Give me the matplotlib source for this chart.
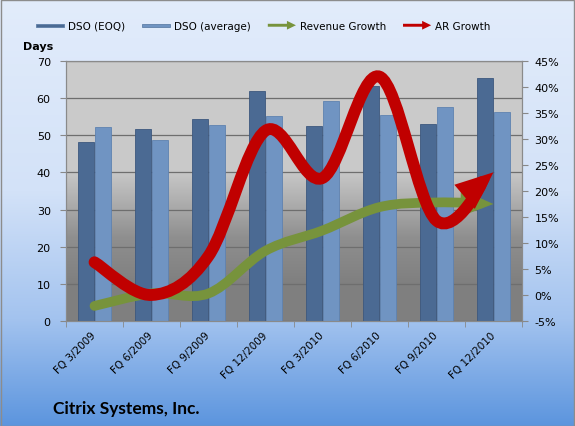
import numpy as np
import matplotlib.pyplot as plt
from matplotlib.path import Path
from matplotlib.patches import FancyArrowPatch, FancyArrow, Patch, Rectangle
from matplotlib.legend_handler import HandlerPatch
from matplotlib.colors import LinearSegmentedColormap

# data
quarters = ['FQ 3/2009', 'FQ 6/2009', 'FQ 9/2009', 'FQ 12/2009',
            'FQ 3/2010', 'FQ 6/2010', 'FQ 9/2010', 'FQ 12/2010']
dso_eoq = [48.1, 51.7, 54.4, 62.0, 52.6, 63.4, 53.0, 65.4]
dso_avg = [52.1, 48.7, 52.8, 55.1, 59.3, 55.5, 57.5, 56.2]
revenue_growth = [-2.1, 0.3, 0.3, 8.5, 12.4, 16.9, 17.8, 17.5]
ar_growth = [6.3, 0.0, 7.5, 31.6, 22.5, 42.0, 14.3, 23.6]

c_eoq = '#4b6a93'
c_avg = '#7094c2'
c_rev = '#77933c'
c_ar = '#c00000'


def smooth_path(xs, ys):
    # excel-style smoothed line (catmull-rom as bezier)
    pts = np.column_stack([xs, ys]).astype(float)
    n = len(pts)
    verts = [pts[0]]
    codes = [Path.MOVETO]
    for i in range(n - 1):
        p0 = pts[i - 1] if i > 0 else pts[i]
        p3 = pts[i + 2] if i + 2 < n else pts[i + 1]
        c1 = pts[i] + (pts[i + 1] - p0) / 6
        c2 = pts[i + 1] - (p3 - pts[i]) / 6
        verts += [c1, c2, pts[i + 1]]
        codes += [Path.CURVE4] * 3
    return Path(verts, codes)


class ArrowHandler(HandlerPatch):
    def create_artists(self, legend, orig_handle, xdescent, ydescent,
                       width, height, fontsize, trans):
        a = FancyArrow(-xdescent, height / 2 - ydescent, width, 0,
                       width=height * 0.4, head_width=height * 1.2,
                       head_length=width * 0.32, length_includes_head=True,
                       color=orig_handle.get_facecolor(), lw=0)
        a.set_transform(trans)
        return [a]


class BarHandler(HandlerPatch):
    def create_artists(self, legend, orig_handle, xdescent, ydescent,
                       width, height, fontsize, trans):
        r = Rectangle((-xdescent, height * 0.2 - ydescent), width, height * 0.5,
                      facecolor=orig_handle.get_facecolor(), edgecolor='#5f7fa8', lw=0.6)
        r.set_transform(trans)
        return [r]


fig = plt.figure(figsize=(5.75, 4.27), dpi=100)

# figure background gradient
bg = fig.add_axes([0, 0, 1, 1], zorder=-10)
bg_cmap = LinearSegmentedColormap.from_list(
    'bg', [(0, '#5c95de'), (0.25, '#a3c3ef'), (0.55, '#d3e2f8'), (1, '#e2ecfb')])
bg.imshow(np.linspace(0, 1, 256).reshape(-1, 1), cmap=bg_cmap, aspect='auto',
          extent=[0, 1, 0, 1], origin='lower')
bg.axis('off')
fig.patches.append(Rectangle((0.001, 0.001), 0.997, 0.996, transform=fig.transFigure,
                             fill=False, ec='#8c8c8c', lw=1))

ax = fig.add_axes([0.1148, 0.2459, 0.7930, 0.6089])
ax.patch.set_visible(False)
pa_cmap = LinearSegmentedColormap.from_list(
    'pa', [(0, '#7f7f7f'), (0.15, '#808080'), (0.32, '#8f8f8f'), (0.5, '#b8b8b8'),
           (0.58, '#c9c9c9'), (1, '#cccccc')])
ax.imshow(np.linspace(0, 1, 256).reshape(-1, 1), cmap=pa_cmap, aspect='auto',
          extent=[0, 1, 0, 1], origin='lower', transform=ax.transAxes, zorder=0)

x = np.arange(len(quarters))
w = 0.29
ax.bar(x - 0.152, dso_eoq, w, color=c_eoq, edgecolor='#3d587e', lw=0.6, zorder=3)
ax.bar(x + 0.152, dso_avg, w, color=c_avg, edgecolor='#5f82b0', lw=0.6, zorder=3)

ax.set_xlim(-0.5, len(quarters) - 0.5)
ax.set_ylim(0, 70)
ax.set_yticks(range(0, 71, 10))
ax.yaxis.grid(True, color='#6e6e6e', lw=0.9, zorder=1)
ax.set_axisbelow(True)
ax.set_xticks(x)
ax.set_xticklabels(quarters, rotation=45, ha='right', va='center',
                   rotation_mode='anchor', fontsize=7.5)
ax.set_xticks(np.arange(-0.5, len(quarters)), minor=True)
ax.tick_params(axis='x', which='major', length=0, pad=9)
ax.tick_params(axis='x', which='minor', length=4, color='#888888')
ax.tick_params(axis='y', length=4, color='#888888', labelsize=8, pad=7)
for s in ax.spines.values():
    s.set_color('#8a8a8a')

ax2 = ax.twinx()
ax2.set_ylim(-5, 45)
ax2.set_yticks(range(-5, 46, 5))
ax2.set_yticklabels([f'{v}%' for v in range(-5, 46, 5)])
ax2.tick_params(axis='y', length=4, color='#888888', labelsize=8, pad=5)
for s in ax2.spines.values():
    s.set_color('#8a8a8a')

rev = FancyArrowPatch(path=smooth_path(x, revenue_growth),
                      arrowstyle='-|>,head_length=11,head_width=4.5',
                      color=c_rev, lw=7, capstyle='round', joinstyle='miter', zorder=4)
ax2.add_patch(rev)
ar = FancyArrowPatch(path=smooth_path(x, ar_growth),
                     arrowstyle='-|>,head_length=12,head_width=5',
                     color=c_ar, lw=8.5, capstyle='round', joinstyle='miter', zorder=5)
ax2.add_patch(ar)

handles = [Patch(facecolor=c_eoq), Patch(facecolor=c_avg),
           Patch(facecolor=c_rev), Patch(facecolor=c_ar)]
labels = ['DSO (EOQ)', 'DSO (average)', 'Revenue Growth', 'AR Growth']
fig.legend(handles, labels, loc='center', bbox_to_anchor=(0.458, 0.937), ncol=4,
           frameon=False, fontsize=7.5, handlelength=2.7, columnspacing=1.6,
           handletextpad=0.4,
           handler_map={handles[0]: BarHandler(), handles[1]: BarHandler(),
                        handles[2]: ArrowHandler(), handles[3]: ArrowHandler()})

fig.text(0.066, 0.89, 'Days', ha='center', va='center', fontsize=8, fontweight='bold')
fig.text(0.092, 0.042, 'Citrix Systems, Inc.', ha='left', va='center',
         fontsize=12.5, fontweight='bold', family='Lato')

fig.savefig('out.png', dpi=100)
